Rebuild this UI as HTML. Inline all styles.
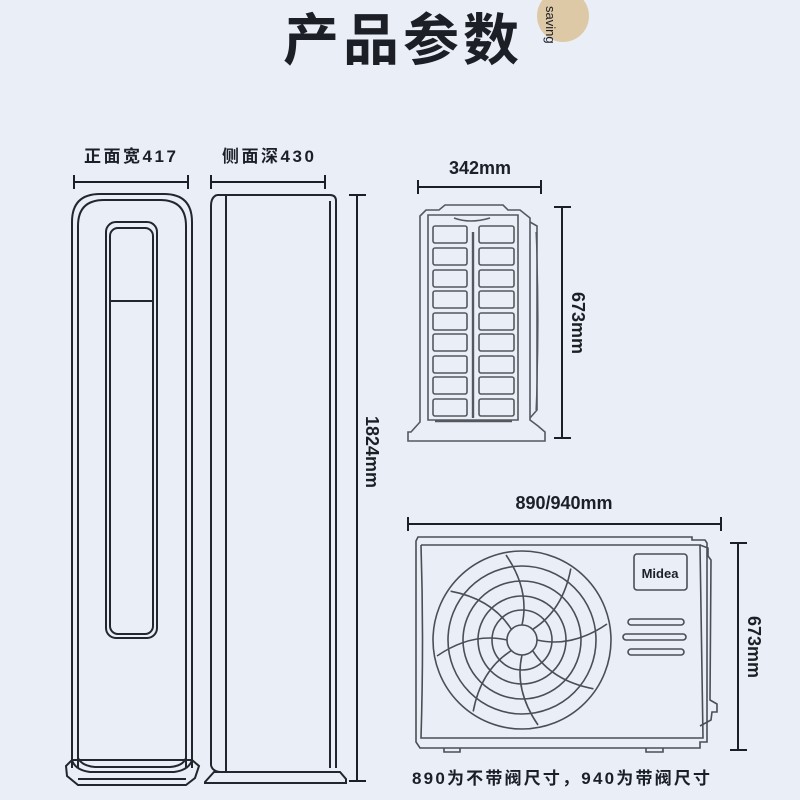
<!DOCTYPE html>
<html><head><meta charset="utf-8"><style>
html,body{margin:0;padding:0;background:#eaeef6;}
svg{display:block;}
text{font-family:"Liberation Sans","Noto Sans CJK SC",sans-serif;fill:#1c1f26;}
</style></head><body>
<svg width="800" height="800" viewBox="0 0 800 800" xmlns="http://www.w3.org/2000/svg">
<rect width="800" height="800" fill="#eaeef6"/>
<circle cx="563" cy="16" r="26" fill="#ddc9a6"/>
<text x="403" y="60" text-anchor="middle" font-size="56" font-weight="bold" font-family="Noto Sans CJK SC,sans-serif" style="letter-spacing:4px" fill="#1f2430">产品参数</text>
<text transform="translate(546,6) rotate(90)" font-size="13" fill="#3a3f4a">saving</text>

<g stroke="#1c1f26" fill="none" stroke-width="2">
<path d="M74 182H188M74 175V189M188 175V189"/>
<path d="M211 182H325M211 175V189M325 175V189"/>
<path d="M357 195V781M349 195H366M349 781H366"/>
<path d="M418 187H541M418 180V194M541 180V194"/>
<path d="M562 207V438M554 207H571M554 438H571"/>
<path d="M408 524H721M408 517V531M721 517V531"/>
<path d="M738 543V750M730 543H747M730 750H747"/>
</g>
<g font-size="17" font-weight="bold">
<text x="130" y="162" text-anchor="middle" textLength="92">正面宽417</text>
<text x="268" y="162" text-anchor="middle" textLength="92">侧面深430</text>
</g>
<g font-size="18" font-weight="bold">
<text x="480" y="174" text-anchor="middle">342mm</text>
<text x="564" y="509" text-anchor="middle">890/940mm</text>
<text transform="translate(366,452) rotate(90)" text-anchor="middle">1824mm</text>
<text transform="translate(572,323) rotate(90)" text-anchor="middle">673mm</text>
<text transform="translate(748,647) rotate(90)" text-anchor="middle">673mm</text>
</g>
<text x="412" y="784" font-size="17" font-weight="bold" textLength="298">890为不带阀尺寸，940为带阀尺寸</text>

<!-- front unit -->
<g stroke="#23262c" fill="none" stroke-width="2">
<path d="M72 768V222Q72 194 100 194H164Q192 194 192 222V768"/>
<path d="M78 768V226Q78 200 104 200H160Q186 200 186 226V768"/>
<path d="M72 760Q75 770 90 772H174Q189 770 192 760"/>
<path d="M78 758Q82 766 95 767H170Q183 766 186 758"/>
<path d="M66 766L72 760H192L199 766L195 778L186 785H78L67 776Z"/>
<path d="M78 779H186"/>
<rect x="106" y="222" width="51" height="416" rx="10"/>
<rect x="110" y="228" width="43" height="406" rx="8"/>
<path d="M110 301H153"/>
<!-- side unit -->
<path d="M217 195H330Q336 195 336 201V768"/>
<path d="M330 201V768"/>
<path d="M217 195Q211 197 211 206V765Q212 771 220 772"/>
<path d="M226 196V772"/>
<path d="M220 772H333"/>
<path d="M205 782L214 772H340L346 779V783H205Z"/>
</g>

<!-- small outdoor side view -->
<g stroke="#55595f" fill="none" stroke-width="1.6">
<path d="M420 225V422L411 432H408V441H545V432L538 426L530 420V218L520 210H508L503 205H445L439 210H426L420 216Z"/>
<path d="M428 215H518V420H428Z"/>
<path d="M454 218Q470 224 490 218"/>
<path d="M530 222L537 226V410L530 418"/>
<path d="M536 232Q540 320 536 410" stroke-width="1.2"/>
<path d="M473 232V418" stroke-width="2.4"/>
<path d="M435 421H512" stroke-width="2.4"/>
<g stroke-width="1.6">
<rect x="433" y="226" width="34" height="17" rx="2"/><rect x="479" y="226" width="35" height="17" rx="2"/>
<rect x="433" y="248" width="34" height="17" rx="2"/><rect x="479" y="248" width="35" height="17" rx="2"/>
<rect x="433" y="270" width="34" height="17" rx="2"/><rect x="479" y="270" width="35" height="17" rx="2"/>
<rect x="433" y="291" width="34" height="17" rx="2"/><rect x="479" y="291" width="35" height="17" rx="2"/>
<rect x="433" y="313" width="34" height="17" rx="2"/><rect x="479" y="313" width="35" height="17" rx="2"/>
<rect x="433" y="334" width="34" height="17" rx="2"/><rect x="479" y="334" width="35" height="17" rx="2"/>
<rect x="433" y="356" width="34" height="17" rx="2"/><rect x="479" y="356" width="35" height="17" rx="2"/>
<rect x="433" y="377" width="34" height="17" rx="2"/><rect x="479" y="377" width="35" height="17" rx="2"/>
<rect x="433" y="399" width="34" height="17" rx="2"/><rect x="479" y="399" width="35" height="17" rx="2"/>
</g>
</g>

<!-- big outdoor unit -->
<g stroke="#4a4e55" fill="none" stroke-width="1.6">
<path d="M418 537H692V540H705L707 543V742H700V748H420L416 742V541Z"/>
<path d="M421 545H700L703 738H421Q424 640 421 545"/>
<path d="M700 545L708 548V556L711 560L710 700L717 704V712H712L711 720L700 726"/>
<path d="M444 748V752H460V748M646 748V752H663V748"/>
<rect x="634" y="554" width="53" height="36" rx="3"/>
<rect x="628" y="619" width="56" height="6" rx="3"/>
<rect x="623" y="634" width="63" height="6" rx="3"/>
<rect x="628" y="649" width="56" height="6" rx="3"/>
<circle cx="522" cy="640" r="89"/>
<circle cx="522" cy="640" r="74"/>
<circle cx="522" cy="640" r="59"/>
<circle cx="522" cy="640" r="44"/>
<circle cx="522" cy="640" r="30"/>
<circle cx="522" cy="640" r="15"/>
<g id="bl">
<path d="M522 625Q530 590 506 555"/>
</g>
<use href="#bl" transform="rotate(45 522 640)"/>
<use href="#bl" transform="rotate(90 522 640)"/>
<use href="#bl" transform="rotate(135 522 640)"/>
<use href="#bl" transform="rotate(180 522 640)"/>
<use href="#bl" transform="rotate(225 522 640)"/>
<use href="#bl" transform="rotate(270 522 640)"/>
<use href="#bl" transform="rotate(315 522 640)"/>
</g>
<text x="660" y="578" text-anchor="middle" font-size="13" font-weight="bold" fill="#4a4e55">Midea</text>
</svg>
</body></html>
